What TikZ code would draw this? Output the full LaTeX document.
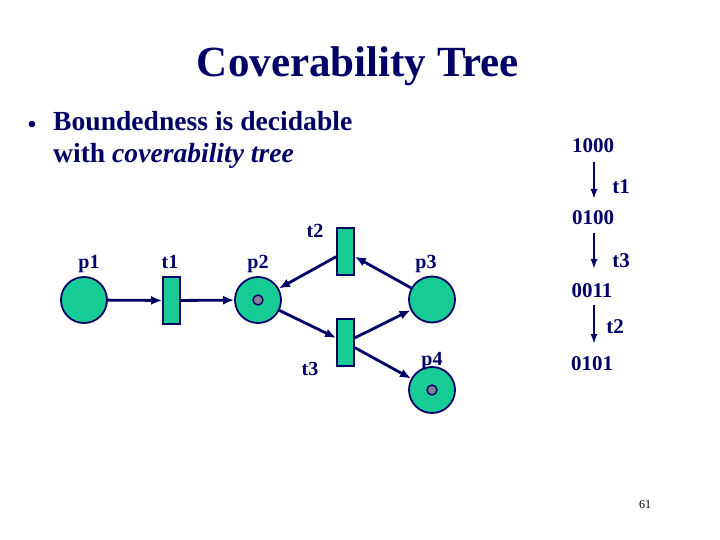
\documentclass[tikz,border=0pt]{standalone}
\usepackage{fontspec}
\setmainfont{Liberation Serif}
\usetikzlibrary{arrows.meta}
\definecolor{navy}{RGB}{0,0,102}
\definecolor{pgreen}{RGB}{24,204,150}
\definecolor{tok}{RGB}{128,128,150}
\tikzset{
  place/.style={circle,draw=navy,fill=pgreen,line width=1.8pt,minimum size=46pt,inner sep=0pt},
  trans/.style={rectangle,draw=navy,fill=pgreen,line width=1.8pt,minimum width=17pt,minimum height=47pt,inner sep=0pt},
  token/.style={circle,draw=navy,fill=tok,line width=1.4pt,minimum size=10pt,inner sep=0pt},
  lbl/.style={anchor=base,inner sep=0pt,text=navy,font=\fontsize{20}{24}\selectfont\bfseries},
  tlbl/.style={anchor=base,inner sep=0pt,text=navy,font=\fontsize{21}{24}\selectfont\bfseries},
  arc/.style={draw=navy,line width=2.8pt,-{Latex[length=11pt,width=9pt]}},
  tarc/.style={draw=navy,line width=1.8pt,-{Latex[length=10pt,width=7pt]}}
}
\begin{document}
\begin{tikzpicture}[x=1pt,y=-1pt]
\useasboundingbox (0,0) rectangle (720,540);
% title and bullet
\node[anchor=base,inner sep=0pt,text=navy,font=\fontsize{43}{50}\selectfont\bfseries] (title) at (358,77) {Coverability Tree};
\node[inner sep=0pt,text=navy,font=\fontsize{24}{24}\selectfont\bfseries] (bul) at (32,127) {\textbullet};
\node[anchor=base west,inner sep=0pt,text=navy,font=\fontsize{27.6}{30}\selectfont\bfseries] (line1) at (53,131) {Boundedness is decidable};
\node[anchor=base west,inner sep=0pt,text=navy,font=\fontsize{27.6}{30}\selectfont\bfseries] (line2) at (53,163) {with \textit{coverability tree}};
% net
\node[place] (p1) at (84,300) {};
\node[trans] (t1) at (171.5,300.5) {};
\node[place] (p2) at (258,300) {};
\node[token] at (p2) {};
\node[trans] (t2) at (345.5,251.5) {};
\node[trans] (t3) at (345.5,342.5) {};
\node[place] (p3) at (432,299.5) {};
\node[place] (p4) at (432,390) {};
\node[token] at (p4) {};
\node[lbl] (lp1) at (89,268) {p1};
\node[lbl] (lt1) at (170,268) {t1};
\node[lbl] (lp2) at (258,268) {p2};
\node[lbl] (lt2) at (315,237) {t2};
\node[lbl] (lt3) at (310,375) {t3};
\node[lbl] (lp3) at (426,268) {p3};
\node[lbl] (lp4) at (432,365) {p4};
\draw[arc] (p1) -- (t1);
\draw[arc] (t1) -- (p2);
\draw[arc] (t2) -- (p2);
\draw[arc] (p2) -- (t3);
\draw[arc] (p3) -- (t2);
\draw[arc] (t3) -- (p3);
\draw[arc] (t3) -- (p4);
% tree
\node[tlbl] (m1) at (593,153) {1000};
\node[tlbl] (m2) at (593,225) {0100};
\node[tlbl] (m3) at (592,297) {0011};
\node[tlbl] (m4) at (592,370) {0101};
\node[tlbl] (e1) at (621,194) {t1};
\node[tlbl] (e2) at (621,267) {t3};
\node[tlbl] (e3) at (615,333) {t2};
\coordinate (a1s) at (594,162); \coordinate (a1e) at (594,199);
\coordinate (a2s) at (594,233); \coordinate (a2e) at (594,269);
\coordinate (a3s) at (594,305); \coordinate (a3e) at (594,344);
\draw[tarc] (a1s) -- (a1e);
\draw[tarc] (a2s) -- (a2e);
\draw[tarc] (a3s) -- (a3e);
\node[anchor=base,inner sep=0pt,font=\fontsize{12}{14}\selectfont] (pg) at (645,508) {61};
\end{tikzpicture}
\end{document}
